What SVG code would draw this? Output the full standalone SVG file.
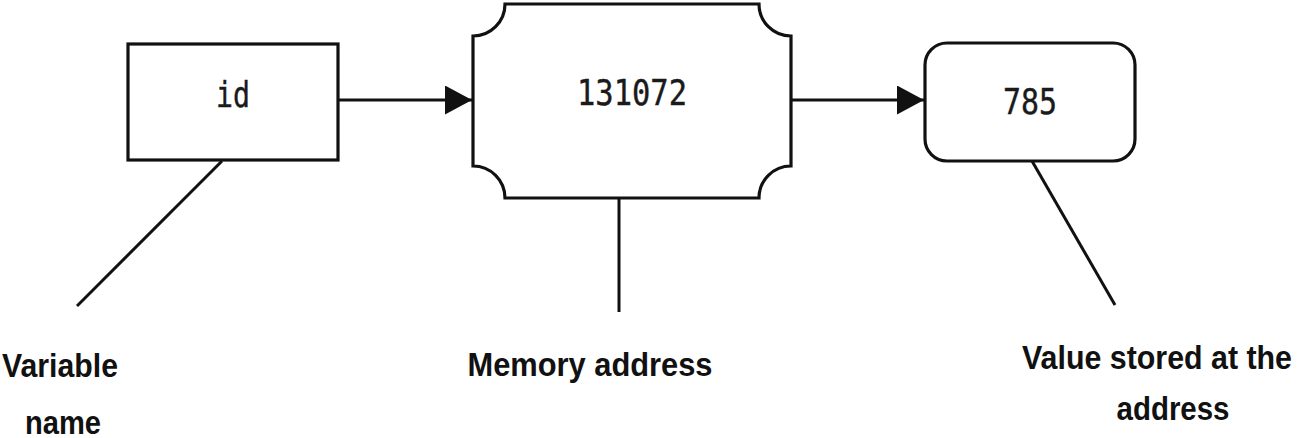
<svg xmlns="http://www.w3.org/2000/svg" width="1300" height="438" viewBox="0 0 1300 438">
<style>
.shape{fill:#fff;stroke:#111;stroke-width:3.2}
.line{fill:none;stroke:#111;stroke-width:3}
.mono{font-family:"DejaVu Sans Mono","Liberation Mono",monospace;font-size:35px;fill:#1a1a1a;text-anchor:middle;stroke:#1a1a1a;stroke-width:0.4}
.label{font-family:"Liberation Sans",Arial,sans-serif;font-weight:bold;font-size:33px;fill:#111;text-anchor:middle}
</style>
<defs>
<marker id="arrow" markerUnits="userSpaceOnUse" markerWidth="28" markerHeight="30" refX="27" refY="14.5" orient="auto">
<path d="M0,0 L27,14.5 L0,29 Z" fill="#111"/>
</marker>
</defs>
<rect width="1300" height="438" fill="#fff"/>
<g id="connectors">
<line class="line" x1="338" y1="100" x2="472" y2="100" marker-end="url(#arrow)"/>
<line class="line" x1="791" y1="100" x2="924" y2="100" marker-end="url(#arrow)"/>
<line class="line" x1="222" y1="161" x2="77" y2="306"/>
<line class="line" x1="619" y1="198" x2="619" y2="312"/>
<line class="line" x1="1032" y1="161" x2="1115" y2="305"/>
</g>
<g id="node-variable">
<rect class="shape" x="128" y="44" width="210" height="116"/>
<text class="mono" x="233" y="107" textLength="34" lengthAdjust="spacingAndGlyphs">id</text>
</g>
<g id="node-address">
<path class="shape" d="M505 4 H759 A32 32 0 0 0 791 36 V166 A32 32 0 0 0 759 198 H505 A32 32 0 0 0 473 166 V36 A32 32 0 0 0 505 4 Z"/>
<text class="mono" x="632" y="105" textLength="110" lengthAdjust="spacingAndGlyphs">131072</text>
</g>
<g id="node-value">
<rect class="shape" x="925" y="43" width="210" height="118" rx="22" ry="22"/>
<text class="mono" x="1030" y="114" textLength="54" lengthAdjust="spacingAndGlyphs">785</text>
</g>
<g id="label-variable">
<text class="label" x="60" y="377" textLength="116" lengthAdjust="spacingAndGlyphs">Variable</text>
<text class="label" x="63" y="434" textLength="76" lengthAdjust="spacingAndGlyphs">name</text>
</g>
<g id="label-address">
<text class="label" x="590" y="376" textLength="245" lengthAdjust="spacingAndGlyphs">Memory address</text>
</g>
<g id="label-value">
<text class="label" x="1157" y="369" textLength="270" lengthAdjust="spacingAndGlyphs">Value stored at the</text>
<text class="label" x="1173" y="420" textLength="113" lengthAdjust="spacingAndGlyphs">address</text>
</g>
</svg>
